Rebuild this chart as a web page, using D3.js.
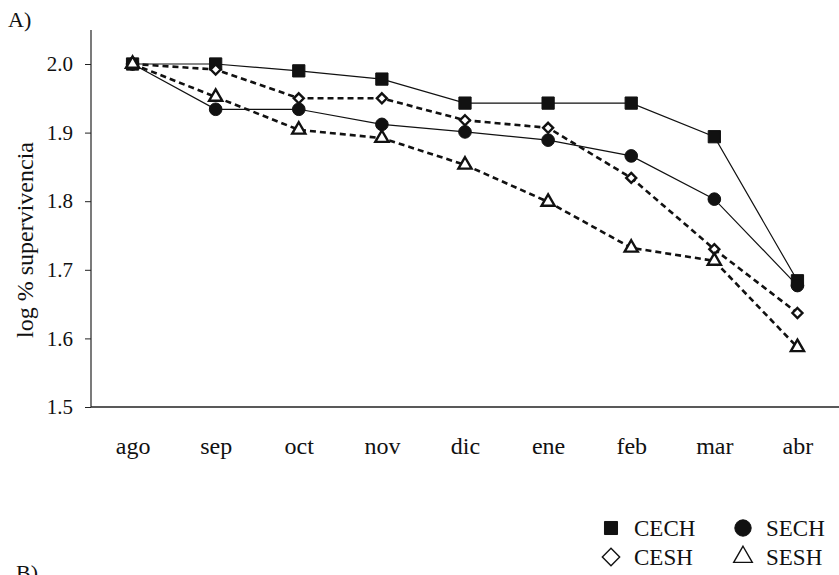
<!DOCTYPE html>
<html><head><meta charset="utf-8">
<script src="https://cdn.jsdelivr.net/npm/d3@7"></script>
<style>body{margin:0;background:#fff}svg{display:block}text{font-family:"Liberation Serif","DejaVu Serif",serif;fill:#111}</style>
</head><body><svg id="c" width="839" height="575"></svg>
<script>
const months = ["ago","sep","oct","nov","dic","ene","feb","mar","abr"];
const yTicks = [1.5,1.6,1.7,1.8,1.9,2.0];
const CECH = [2.0,2.0,1.990,1.978,1.943,1.943,1.943,1.894,1.684];
const SECH = [2.0,1.934,1.934,1.912,1.901,1.889,1.866,1.803,1.677];
const CESH = [2.0,1.992,1.950,1.950,1.918,1.907,1.834,1.730,1.637];
const SESH = [2.0,1.952,1.904,1.892,1.853,1.799,1.732,1.713,1.587];
const seriesNames = ["CECH","SECH","CESH","SESH"];

const diamond = {draw(ctx,size){const r=Math.sqrt(size/2);ctx.moveTo(0,-r);ctx.lineTo(r,0);ctx.lineTo(0,r);ctx.lineTo(-r,0);ctx.closePath();}};
const series = [
  {name:"CECH", values:CECH, sym:d3.symbolSquare, size:150, fill:"#111", dash:null},
  {name:"SECH", values:SECH, sym:d3.symbolCircle, size:125, fill:"#111", dash:null},
  {name:"CESH", values:CESH, sym:diamond, size:50, fill:"#fff", dash:"6,4"},
  {name:"SESH", values:SESH, sym:d3.symbolTriangle, size:75, fill:"#fff", dash:"6,4"}
];

const svg = d3.select("#c");
const x = d3.scalePoint().domain(months).range([91,839]).padding(0.5);
const y = d3.scaleLinear().domain([1.5,2.0]).range([407,64]);

svg.append("line").attr("x1",91).attr("x2",91).attr("y1",30).attr("y2",407).attr("stroke","#222").attr("stroke-width",1.2);
svg.append("line").attr("x1",91).attr("x2",839).attr("y1",407).attr("y2",407).attr("stroke","#222").attr("stroke-width",1.6);

const yAxis = d3.axisLeft(y).tickValues(yTicks).tickFormat(d3.format(".1f")).tickSize(6).tickPadding(12);
const ga = svg.append("g").attr("transform","translate(91,0)").call(yAxis);
ga.select(".domain").remove();
ga.selectAll("line").attr("stroke","#222");
ga.selectAll("text").style("font-size","21px").attr("fill","#111");

const xAxis = d3.axisBottom(x).tickSize(0);
const gx = svg.append("g").attr("transform","translate(0,407)").call(xAxis);
gx.select(".domain").remove();
gx.selectAll("text").style("font-size","24px").attr("dy","0").attr("y",47);

const line = d3.line().x((d,i)=>x(months[i])).y(d=>y(d));
series.forEach(s=>{
  svg.append("path").datum(s.values).attr("d",line).attr("fill","none")
    .attr("stroke","#111").attr("stroke-width",s.dash?2.6:1.2)
    .attr("stroke-dasharray",s.dash);
});
series.forEach(s=>{
  const sym = d3.symbol().type(s.sym).size(s.size);
  svg.append("g").selectAll("path").data(s.values).join("path")
    .attr("d",sym)
    .attr("transform",(d,i)=>`translate(${x(months[i])},${y(d)})`)
    .attr("fill",s.fill).attr("stroke","#111").attr("stroke-width",s.fill==="#fff"?2.4:1);
});

svg.append("text").attr("x",8).attr("y",27).style("font-size","22px").text("A)");
svg.append("text").attr("transform","translate(33,240) rotate(-90)").attr("text-anchor","middle")
  .style("font-size","24px").text("log % supervivencia");
svg.append("text").attr("x",16).attr("y",580).style("font-size","22px").text("B)");

const legPos = [[611,528],[743,528],[611,557],[743,557]];
const legSize = {CECH:170, SECH:210, CESH:150, SESH:150};
seriesNames.forEach((n,i)=>{
  const s = series.find(t=>t.name===n);
  const [lx,ly] = legPos[i];
  const sym = d3.symbol().type(s.sym).size(legSize[n]);
  svg.append("path").attr("d",sym).attr("transform",`translate(${lx},${ly})`)
    .attr("fill",s.fill).attr("stroke","#111").attr("stroke-width",s.fill==="#fff"?1.4:1);
  svg.append("text").attr("x",lx+23).attr("y",ly+8).style("font-size","23px").text(n);
});
</script></body></html>
